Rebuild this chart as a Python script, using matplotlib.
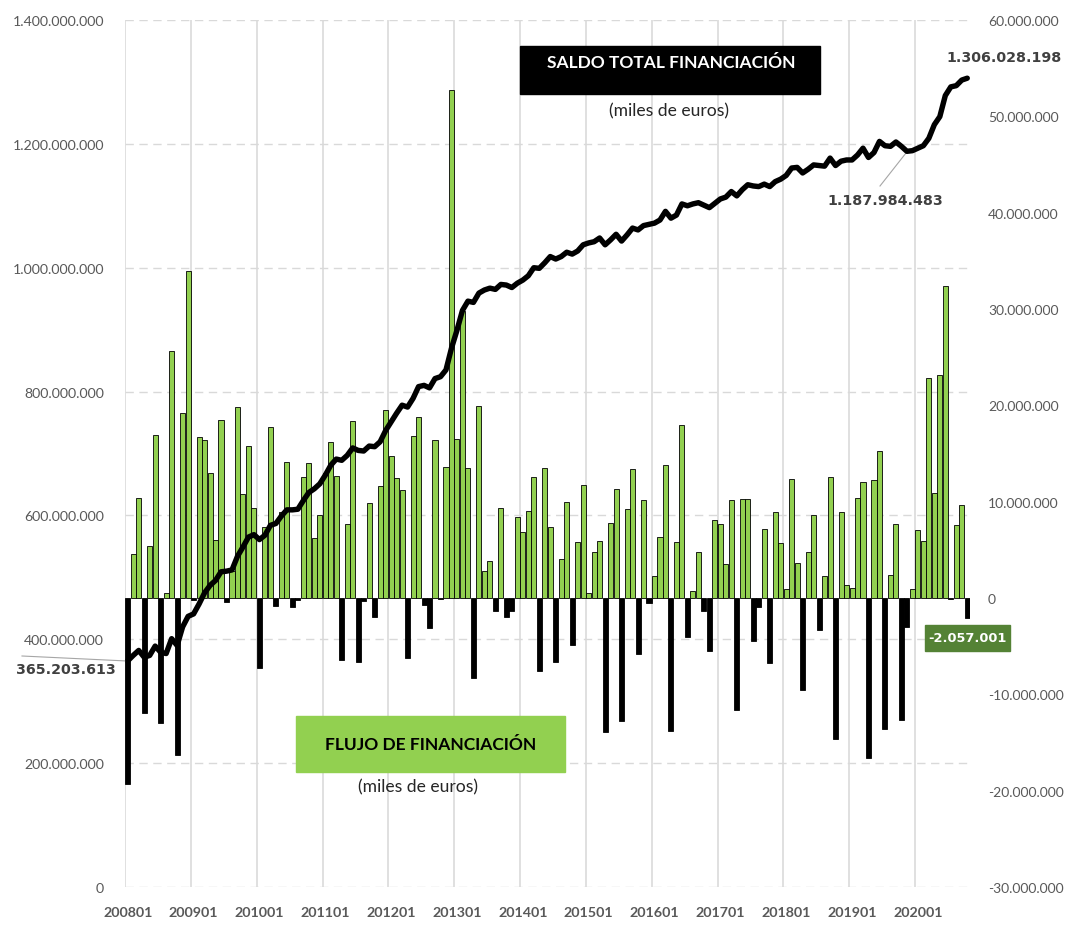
import matplotlib
matplotlib.use("Agg")
import matplotlib.pyplot as plt
import matplotlib.ticker as ticker
from matplotlib.patches import Rectangle
import numpy as np

# monthly data 200801 .. 202010 (miles de euros, expressed in millions)
n_months = 154

flujo_m = [
    -19.3, 4.6, 10.4, -11.9, 5.4, 16.9, -13.0, 0.5, 25.6, -16.3, 19.2, 33.9,
    -0.2, 16.7, 16.4, 13.0, 6.0, 18.5, -0.4, 2.8, 19.8, 10.8, 15.8, 9.3,
    -7.3, 7.4, 17.8, -0.8, 8.9, 14.1, -0.9, -0.2, 12.6, 14.0, 6.2, 8.6,
    13.0, 16.2, 12.7, -6.4, 7.7, 18.4, -6.6, -0.3, 9.9, -2.0, 11.6, 19.5,
    14.7, 12.5, 11.2, -6.2, 16.8, 18.8, -0.7, -3.1, 16.4, -0.1, 13.6, 52.7,
    16.5, 29.8, 13.5, -8.3, 19.9, 2.8, 3.8, -1.3, 9.3, -2.0, -1.4, 8.4,
    6.9, 9.0, 12.6, -7.6, 13.5, 7.4, -6.6, 4.0, 10.0, -4.9, 5.8, 11.7,
    0.5, 4.8, 5.9, -13.9, 7.8, 11.3, -12.8, 9.2, 13.4, -5.8, 10.2, -0.5,
    2.3, 6.3, 13.8, -13.8, 5.8, 18.0, -4.1, 0.7, 4.8, -1.4, -5.5, 8.1,
    7.7, 3.5, 10.2, -11.6, 10.3, 10.3, -4.5, -0.9, 7.2, -6.7, 8.9, 5.7,
    0.9, 12.4, 3.6, -9.6, 4.8, 8.6, -3.3, 2.3, 12.6, -14.6, 8.9, 1.3,
    1.0, 10.4, 12.0, -16.6, 12.2, 15.3, -13.6, 2.4, 7.7, -12.7, -3.0, 0.9,
    7.1, 5.9, 22.8, 10.9, 23.1, 32.4, -0.1, 7.6, 9.7, -2.057001,
]

saldo_m = [
    365.203613, 374, 382, 371, 374, 389, 379, 377, 401, 390, 420, 437,
    441, 457, 475, 487, 495, 509, 510, 512, 534, 549, 565, 569,
    561, 568, 584, 587, 599, 609, 609, 610, 624, 637, 643, 651,
    665, 681, 691, 689, 697, 709, 705, 704, 712, 711, 719, 737,
    751, 765, 778, 775, 789, 808, 810, 806, 821, 824, 835, 870,
    899, 931, 946, 944, 959, 964, 967, 965, 973, 972, 968, 975,
    980, 987, 1000, 999, 1008, 1018, 1014, 1018, 1025, 1022, 1027, 1037,
    1040, 1042, 1048, 1037, 1045, 1054, 1043, 1053, 1064, 1061, 1068, 1070,
    1072, 1077, 1091, 1080, 1085, 1103, 1100, 1103, 1105, 1101, 1097, 1104,
    1111, 1114, 1123, 1116, 1126, 1134, 1132, 1131, 1135, 1131, 1139, 1143,
    1149, 1161, 1162, 1153, 1159, 1166, 1165, 1164, 1177, 1165, 1172, 1174,
    1174, 1182, 1193, 1178, 1186, 1204, 1197, 1196, 1203, 1196, 1187.984483, 1189,
    1193, 1197, 1209, 1231, 1244, 1278, 1292, 1294, 1303, 1306.028198,
]

tick_labels = [f"{y}01" for y in range(2008, 2021)]

GREEN = '#92D050'
DARK_GREEN = '#548235'
GRAY = '#595959'
LABEL_GRAY = '#404040'

W, H = 1069, 937


def dots(x, pos=None):
    # spanish thousands separator
    return f"{int(round(x)):,}".replace(",", ".")


def fx(px):
    return px / W


def fy(py):
    return 1 - py / H


flujo = np.array(flujo_m) * 1e6
saldo = np.array(saldo_m) * 1e6
x = np.arange(n_months)

fig = plt.figure(figsize=(W / 100, H / 100), dpi=100)
rect = [fx(125), fy(888), fx(970) - fx(125), fy(21) - fy(888)]

# bottom axes: left scale, gridlines and tick labels
ax = fig.add_axes(rect)
ax.set_zorder(0)
ax.set_ylim(0, 1.4e9)
ax.set_xlim(-0.5, n_months - 0.5)
ax.yaxis.set_major_locator(ticker.MultipleLocator(2e8))
ax.yaxis.set_major_formatter(ticker.FuncFormatter(dots))
ax.grid(axis='y', color='#D9D9D9', linestyle=(0, (6, 4)), linewidth=1.0)
year_idx = np.arange(0, n_months, 12)
for xi in year_idx:
    ax.axvline(xi - 0.5, color='#DDDDDD', linewidth=1.3, zorder=0)
ax.set_xticks(year_idx)
ax.set_xticklabels(tick_labels[:len(year_idx)], fontfamily='Lato', fontweight='bold',
                   fontsize=10.3, color=GRAY)
ax.tick_params(axis='both', length=0)
ax.tick_params(axis='y', labelsize=10.2, labelcolor=GRAY, pad=15)
ax.tick_params(axis='x', pad=14)
for lab in ax.get_yticklabels():
    lab.set_fontfamily('Lato')
for s in ax.spines.values():
    s.set_visible(False)

# flow bars on right scale
ax2 = ax.twinx()
ax2.set_zorder(1)
ax2.set_ylim(-30e6, 60e6)
ax2.yaxis.set_major_locator(ticker.MultipleLocator(1e7))
ax2.yaxis.set_major_formatter(ticker.FuncFormatter(dots))
colors = [GREEN if v >= 0 else 'black' for v in flujo]
ax2.bar(x, flujo, width=0.92, color=colors, edgecolor='black', linewidth=0.6)
ax2.tick_params(axis='y', length=0, labelsize=10.0, labelcolor=GRAY, pad=13)
for lab in ax2.get_yticklabels():
    lab.set_fontfamily('Lato')
for s in ax2.spines.values():
    s.set_visible(False)

# stock line on top, same scale as the left axis
ax3 = ax.twinx()
ax3.set_zorder(2)
ax3.set_ylim(ax.get_ylim())
ax3.plot(x, saldo, color='black', linewidth=3.9, solid_joinstyle='round',
         solid_capstyle='round')
ax3.set_yticks([])
for s in ax3.spines.values():
    s.set_visible(False)

# boxes with titles
fig.patches.append(Rectangle((fx(520), fy(95)), fx(820) - fx(520), fy(47) - fy(95),
                             transform=fig.transFigure, color='black', zorder=5))
fig.text(fx(671), fy(63), 'SALDO TOTAL FINANCIACIÓN', color='white', fontfamily='Lato',
         fontweight='bold', fontsize=12.5, ha='center', va='center', zorder=6)
fig.text(fx(669), fy(111), '(miles de euros)', color='#262626', fontfamily='Lato',
         fontsize=12.6, ha='center', va='center')

fig.patches.append(Rectangle((fx(296), fy(773)), fx(565) - fx(296), fy(717) - fy(773),
                             transform=fig.transFigure, color=GREEN, zorder=5))
fig.text(fx(431), fy(745), 'FLUJO DE FINANCIACIÓN', color='black', fontfamily='Lato',
         fontweight='bold', fontsize=12.5, ha='center', va='center', zorder=6)
fig.text(fx(418), fy(787), '(miles de euros)', color='#262626', fontfamily='Lato',
         fontsize=12.6, ha='center', va='center')

# value labels
lbl = dict(fontfamily='DejaVu Sans', fontweight='bold', fontsize=10.3, color=LABEL_GRAY)
fig.text(fx(1004), fy(58), dots(saldo[-1]), ha='center', va='center', **lbl)
fig.text(fx(885), fy(201), dots(saldo[142]), ha='center', va='center', **lbl)
fig.text(fx(66), fy(670), dots(saldo[0]), ha='center', va='center', **lbl)
fig.add_artist(plt.Line2D([fx(880), fx(906)], [fy(187), fy(154)], color='#A6A6A6',
                          linewidth=0.8, transform=fig.transFigure))
fig.add_artist(plt.Line2D([fx(22), fx(127)], [fy(657), fy(662)], color='#A6A6A6',
                          linewidth=0.8, transform=fig.transFigure))

fig.patches.append(Rectangle((fx(925), fy(652)), fx(1010) - fx(925), fy(626) - fy(652),
                             transform=fig.transFigure, color=DARK_GREEN, zorder=5))
fig.text(fx(967), fy(639), dots(flujo[-1]), color='white', fontfamily='DejaVu Sans',
         fontweight='bold', fontsize=9.3, ha='center', va='center', zorder=6)

fig.savefig('out.png', dpi=100)
